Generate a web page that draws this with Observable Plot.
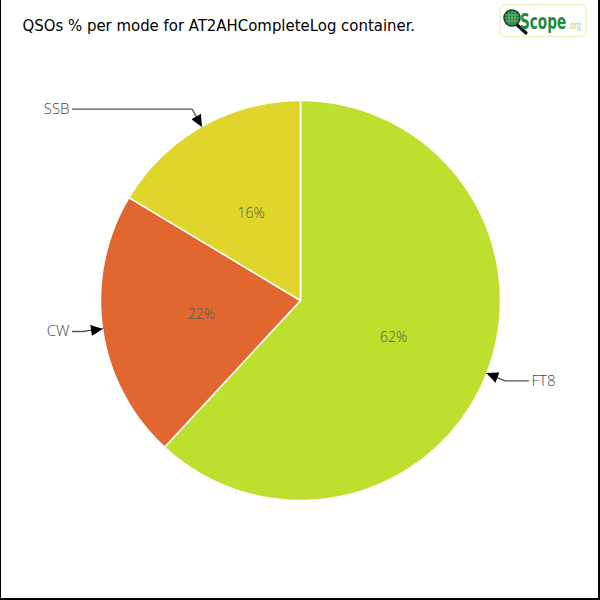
<!DOCTYPE html>
<html>
<head>
<meta charset="utf-8">
<script src="https://cdn.jsdelivr.net/npm/d3@7"></script>
<script src="https://cdn.jsdelivr.net/npm/@observablehq/plot@0.6"></script>
<style>
  html, body { margin: 0; padding: 0; background: #fff; }
  #wrap { position: relative; width: 600px; height: 600px; overflow: hidden; }
  #border { position: absolute; left: 0; top: 0; width: 600px; height: 600px; box-sizing: border-box;
            border-left: 1px solid #000; border-right: 2px solid #000; border-bottom: 2px solid #000; pointer-events: none; }
  #logo { position: absolute; left: 499px; top: 3px; }
</style>
</head>
<body>
<div id="wrap">
  <div id="chart"></div>
  <svg id="logo" width="90" height="36" viewBox="0 0 90 36">
    <rect x="1" y="1.5" width="86" height="32" rx="5" ry="5" fill="#fff" stroke="#eef3c8" stroke-width="1.5"/>
    <line x1="16" y1="20" x2="27" y2="30" stroke="#111" stroke-width="3.2" stroke-linecap="round"/>
    <circle cx="13" cy="15" r="8" fill="#1f7a3a" stroke="#0c3d1c" stroke-width="1.5"/>
    <path d="M6 12 H20 M5.5 15 H20.5 M6 18 H20 M10 8 V22 M13 7.5 V22.5 M16 8 V22" stroke="#7fc48a" stroke-width="0.8" fill="none"/>
    <g transform="translate(21,26) scale(0.72,1)">
      <text x="0" y="0" font-family="'DejaVu Sans Condensed', 'Liberation Sans', sans-serif" font-weight="bold" font-size="21" fill="#1e8c3c">Scope<tspan dx="3" font-weight="normal" font-size="10" fill="#a8d08a">.org</tspan></text>
    </g>
  </svg>
  <div id="border"></div>
</div>
<script>
// ---- data ----
const modes  = ["FT8", "CW", "SSB"];
const shares = [61.9, 21.7, 16.4];
const pctLabels = ["62%", "22%", "16%"];
const sliceColors = ["#bde02e", "#e2662f", "#e0d52b"];
const title = "QSOs % per mode for AT2AHCompleteLog container.";

// ---- geometry ----
const cx = 300, cy = 300, R = 200;
const pie = d3.pie().sort(null).value(d => d.share)(modes.map((m, i) => ({mode: m, share: shares[i], pct: pctLabels[i]})));
const pt = (a, r) => [cx + r * Math.sin(a), cy - r * Math.cos(a)];

const slicePts = [];
for (const s of pie) {
  slicePts.push({mode: s.data.mode, x: cx, y: cy});
  const n = Math.max(2, Math.ceil((s.endAngle - s.startAngle) / 0.01));
  for (let k = 0; k <= n; k++) {
    const a = s.startAngle + (s.endAngle - s.startAngle) * k / n;
    const [x, y] = pt(a, R);
    slicePts.push({mode: s.data.mode, x, y});
  }
  slicePts.push({mode: s.data.mode, x: cx, y: cy});
}

const inner = pie.map(s => {
  const a = (s.startAngle + s.endAngle) / 2;
  const [x, y] = pt(a, R / 2);
  return {x, y, text: s.data.pct};
});

const leaders = [], heads = [], outer = [];
for (const s of pie) {
  const a = (s.startAngle + s.endAngle) / 2;
  const [tx, ty] = pt(a, R);
  const [ex, ey] = pt(a, R + 20);
  const right = Math.sin(a) >= 0;
  const lx = right ? cx + 228 : cx - 228;
  const dx = tx - ex, dy = ty - ey, L = Math.hypot(dx, dy);
  const ux = dx / L, uy = dy / L;
  const bx = tx - 11 * ux, by = ty - 11 * uy;
  leaders.push({mode: s.data.mode, x: lx, y: ey}, {mode: s.data.mode, x: ex, y: ey}, {mode: s.data.mode, x: bx, y: by});
  heads.push({mode: s.data.mode, x: tx, y: ty},
             {mode: s.data.mode, x: bx - 5 * uy, y: by + 5 * ux},
             {mode: s.data.mode, x: bx + 5 * uy, y: by - 5 * ux});
  outer.push({x: right ? cx + 231 : cx - 231, y: ey, text: s.data.mode, anchor: right ? "start" : "end"});
}

const chart = Plot.plot({
  width: 600, height: 600,
  margin: 0,
  x: {domain: [0, 600], range: [0, 600], axis: null},
  y: {domain: [0, 600], range: [0, 600], axis: null},
  color: {domain: modes, range: sliceColors},
  style: {background: "transparent"},
  marks: [
    Plot.line(slicePts, {x: "x", y: "y", z: "mode", fill: "mode", stroke: "#fff", strokeWidth: 1.5, strokeLinejoin: "round", curve: "linear"}),
    Plot.text(inner, {x: "x", y: "y", text: "text", fill: "#4f5f4f", fontSize: 14, fontFamily: "'Open Sans', 'DejaVu Sans', sans-serif", fontWeight: 300}),
    Plot.line(leaders, {x: "x", y: "y", z: "mode", stroke: "#555", strokeWidth: 1.3}),
    Plot.line(heads, {x: "x", y: "y", z: "mode", fill: "#000", stroke: "#000", strokeWidth: 1}),
    Plot.text(outer.filter(d => d.anchor === "end"), {x: "x", y: "y", text: "text", textAnchor: "end", fill: "#444", fontSize: 15, fontFamily: "'Open Sans', 'DejaVu Sans', sans-serif", fontWeight: 300}),
    Plot.text(outer.filter(d => d.anchor === "start"), {x: "x", y: "y", text: "text", textAnchor: "start", fill: "#444", fontSize: 15, fontFamily: "'Open Sans', 'DejaVu Sans', sans-serif", fontWeight: 300}),
    Plot.text([title], {x: () => 22, y: () => 25, text: d => d, textAnchor: "start", fill: "#000", fontSize: 16.6, fontFamily: "'DejaVu Sans Condensed', 'Liberation Sans Narrow', sans-serif"})
  ]
});
document.getElementById("chart").appendChild(chart);
</script>
</body>
</html>
